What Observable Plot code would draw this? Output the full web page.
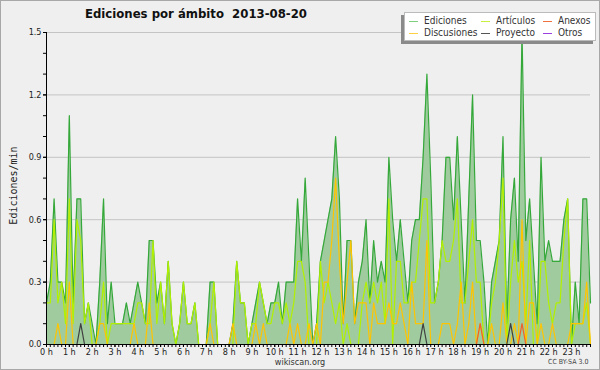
<!DOCTYPE html>
<html><head><meta charset="utf-8">
<script src="https://cdn.jsdelivr.net/npm/d3@7"></script>
<script src="https://cdn.jsdelivr.net/npm/@observablehq/plot@0.6"></script>
<style>
html,body{margin:0;padding:0;background:#efefef;}
#wrap{position:relative;width:600px;height:370px;overflow:hidden;background:#efefef;}
#wrap svg{position:absolute;left:0;top:0;}
.ov{position:absolute;white-space:nowrap;}
#title{left:85px;top:6px;font:bold 13px "DejaVu Sans Condensed","DejaVu Sans";color:#111;}
#ylab{left:-32px;top:180px;width:90px;text-align:center;transform:rotate(-90deg);font:10px "DejaVu Sans Mono";color:#222;}
#src{left:0;width:600px;text-align:center;top:357px;font:9px "DejaVu Sans Condensed","DejaVu Sans";color:#333;}
#lic{left:548px;top:358px;font:7px "DejaVu Sans Condensed","DejaVu Sans";color:#444;}
#border{position:absolute;left:0;top:0;width:598px;height:368px;border:1px solid #a8a8a8;pointer-events:none;}
#legend{left:404px;top:12px;width:190px;height:27px;background:#fff;border:1px solid #bbb;box-shadow:-3px 3px 0 #8a8a8a;font:10px "DejaVu Sans Condensed","DejaVu Sans";color:#333;}
.li{position:absolute;}
.li span.sw{display:inline-block;width:9px;height:0;border-top:1px solid;vertical-align:middle;margin-right:6px;}
</style></head><body>
<div id="wrap"></div>
<script>
// 10-minute intervals, 2013-08-20, edits per minute
const ediciones = [
0.2,0.3,0.7,0.3,0.3,0.2, 1.1,0.2,0.7,0.7,0.1,0.2, 0.1,0.0,0.3,0.7,0.1,0.3, 0.1,0.1,0.1,0.2,0.1,0.2,
0.3,0.2,0.1,0.5,0.5,0.2, 0.3,0.1,0.4,0.1,0.0,0.1, 0.3,0.1,0.1,0.2,0.0,0.0, 0.0,0.3,0.3,0.0,0.0,0.0,
0.0,0.1,0.4,0.2,0.2,0.0, 0.1,0.2,0.3,0.2,0.1,0.2, 0.2,0.3,0.1,0.3,0.3,0.3, 0.7,0.4,0.8,0.4,0.0,0.1,
0.4,0.5,0.6,0.7,1.0,0.7, 0.1,0.5,0.5,0.1,0.3,0.4, 0.6,0.2,0.5,0.3,0.4,0.3, 0.9,0.6,0.4,0.6,0.4,0.2,
0.5,0.6,0.6,0.9,1.3,0.8, 0.2,0.3,0.5,0.9,0.9,0.6, 1.0,0.6,0.2,0.7,1.2,0.5, 0.5,0.3,0.0,0.3,0.4,0.5,
1.0,0.1,0.6,0.8,0.4,1.5, 0.5,0.7,0.4,0.1,0.9,0.4, 0.5,0.4,0.4,0.4,0.6,0.7, 0.0,0.3,0.1,0.7,0.7,0.2
];
const articulos = [
0.2,0.2,0.6,0.2,0.3,0.1, 0.7,0.1,0.6,0.5,0.1,0.2, 0.0,0.0,0.1,0.3,0.0,0.1, 0.1,0.1,0.1,0.1,0.1,0.1,
0.2,0.2,0.1,0.1,0.5,0.1, 0.3,0.1,0.4,0.1,0.0,0.1, 0.3,0.1,0.1,0.2,0.0,0.0, 0.0,0.1,0.3,0.0,0.0,0.0,
0.0,0.0,0.4,0.2,0.2,0.0, 0.1,0.1,0.3,0.2,0.1,0.1, 0.2,0.2,0.1,0.2,0.1,0.2, 0.4,0.4,0.3,0.0,0.0,0.0,
0.4,0.2,0.3,0.2,0.1,0.2, 0.0,0.1,0.0,0.0,0.0,0.2, 0.3,0.2,0.3,0.2,0.3,0.1, 0.7,0.0,0.4,0.4,0.2,0.2,
0.3,0.3,0.5,0.7,0.7,0.2, 0.2,0.3,0.5,0.4,0.4,0.5, 0.7,0.2,0.2,0.4,0.6,0.3, 0.3,0.0,0.0,0.2,0.3,0.5,
0.8,0.0,0.3,0.5,0.3,0.4, 0.1,0.5,0.0,0.0,0.4,0.4, 0.2,0.1,0.2,0.2,0.5,0.7, 0.0,0.1,0.1,0.1,0.2,0.0
];
const discusiones = [
0.0,0.0,0.0,0.1,0.0,0.0, 0.3,0.0,0.0,0.0,0.0,0.0, 0.0,0.0,0.1,0.1,0.0,0.0, 0.0,0.0,0.0,0.0,0.0,0.1,
0.0,0.0,0.0,0.2,0.0,0.0, 0.0,0.0,0.0,0.0,0.0,0.0, 0.0,0.0,0.0,0.0,0.0,0.0, 0.0,0.1,0.0,0.0,0.0,0.0,
0.0,0.1,0.0,0.0,0.0,0.0, 0.0,0.1,0.0,0.1,0.0,0.0, 0.0,0.0,0.0,0.0,0.1,0.0, 0.1,0.0,0.0,0.1,0.0,0.1,
0.0,0.3,0.3,0.5,0.8,0.4, 0.1,0.3,0.5,0.1,0.2,0.2, 0.2,0.0,0.2,0.1,0.1,0.1, 0.2,0.1,0.1,0.2,0.1,0.0,
0.3,0.1,0.1,0.1,0.5,0.0, 0.0,0.0,0.1,0.1,0.1,0.0, 0.1,0.3,0.0,0.1,0.3,0.0, 0.1,0.0,0.0,0.1,0.0,0.0,
0.2,0.0,0.0,0.1,0.0,0.6, 0.0,0.2,0.2,0.0,0.1,0.0, 0.0,0.1,0.0,0.0,0.0,0.0, 0.1,0.1,0.1,0.1,0.3,0.0
];
const anexosIdx = [114, 125];
const anexosVal = [0.1, 0.1];
const proyectoIdx = [9, 99, 122];
const proyectoVal = [0.1, 0.1, 0.1];
const otrosVal = 0.0;

const hourLabels = d3.range(24);
const yLabels = [0, 0.3, 0.6, 0.9, 1.2, 1.5];

const n = ediciones.length;
const anexos = d3.range(n).map(i => { const k = anexosIdx.indexOf(i); return k >= 0 ? anexosVal[k] : 0; });
const proyecto = d3.range(n).map(i => { const k = proyectoIdx.indexOf(i); return k >= 0 ? proyectoVal[k] : 0; });
const otros = d3.range(n).map(() => otrosVal);
const rows = d3.range(n).map(i => ({h: i / 6, ed: ediciones[i], ar: articulos[i], di: discusiones[i], an: anexos[i], pr: proyecto[i], ot: otros[i]}));

const font = "DejaVu Sans Condensed, DejaVu Sans";
const chart = Plot.plot({
  width: 600, height: 370,
  marginLeft: 46, marginRight: 10, marginTop: 32, marginBottom: 26,
  style: {background: "transparent", fontFamily: font, fontSize: "9px", color: "#222"},
  x: {domain: [0, (n - 1) / 6], axis: null, label: null},
  y: {domain: [0, 1.5], axis: null, label: null},
  marks: [
    Plot.gridY(yLabels.slice(1), {stroke: "#c4c4c4", strokeOpacity: 1}),
    Plot.areaY(rows, {x: "h", y: "ed", fill: "#9fcb9f"}),
    Plot.lineY(rows, {x: "h", y: "ed", stroke: "#35a83a", strokeWidth: 1.2}),
    Plot.lineY(rows, {x: "h", y: "ar", stroke: "#b2f000", strokeWidth: 1.2}),
    Plot.lineY(rows, {x: "h", y: "di", stroke: "#ffc400", strokeWidth: 1.2}),
    Plot.lineY(rows, {x: "h", y: "an", stroke: "#f0602a", strokeWidth: 1.2}),
    Plot.lineY(rows, {x: "h", y: "pr", stroke: "#404040", strokeWidth: 1.2}),
    Plot.lineY(rows, {x: "h", y: "ot", stroke: "#9a40e0", strokeWidth: 1.2}),
    Plot.axisX(d3.range(n).map(i => i / 6), {tickSize: 3, text: null, stroke: "#000", label: null}),
    Plot.axisX(hourLabels, {tickSize: 3, tickPadding: 1, tickFormat: d => d + " h", fontSize: 9, fill: "#222", stroke: "#000", label: null}),
    Plot.axisY(d3.range(16).map(i => i / 10), {tickSize: 3, text: null, stroke: "#000", label: null}),
    Plot.axisY(yLabels, {tickSize: 3, tickPadding: 2, tickFormat: d3.format(".1f"), fontSize: 9, fill: "#222", stroke: "#000", label: null}),
    Plot.ruleX([0], {stroke: "#000"}),
    Plot.ruleY([0], {stroke: "#000"})
  ]
});
const wrap = document.getElementById("wrap");
wrap.appendChild(chart);

function add(id, cls, html) { const d = document.createElement("div"); d.id = id; d.className = cls; d.innerHTML = html; wrap.appendChild(d); return d; }
add("title", "ov", "Ediciones por ámbito&nbsp;&nbsp;2013-08-20");
add("ylab", "ov", "Ediciones/min");
add("src", "ov", "wikiscan.org");
add("lic", "ov", "CC BY-SA 3.0");
const legendItems = [
  ["Ediciones", "#7fcf7f", 4, 2],
  ["Artículos", "#c8f040", 76, 2],
  ["Anexos", "#f07040", 138, 2],
  ["Discusiones", "#ffd040", 4, 14],
  ["Proyecto", "#555555", 76, 14],
  ["Otros", "#9a40e0", 138, 14]
];
const lg = add("legend", "ov", "");
legendItems.forEach(([t, c, x, y]) => {
  const d = document.createElement("div");
  d.className = "li"; d.style.left = x + "px"; d.style.top = y + "px";
  d.innerHTML = `<span class="sw" style="border-color:${c}"></span>${t}`;
  lg.appendChild(d);
});
add("border", "", "");
</script>
</body></html>
